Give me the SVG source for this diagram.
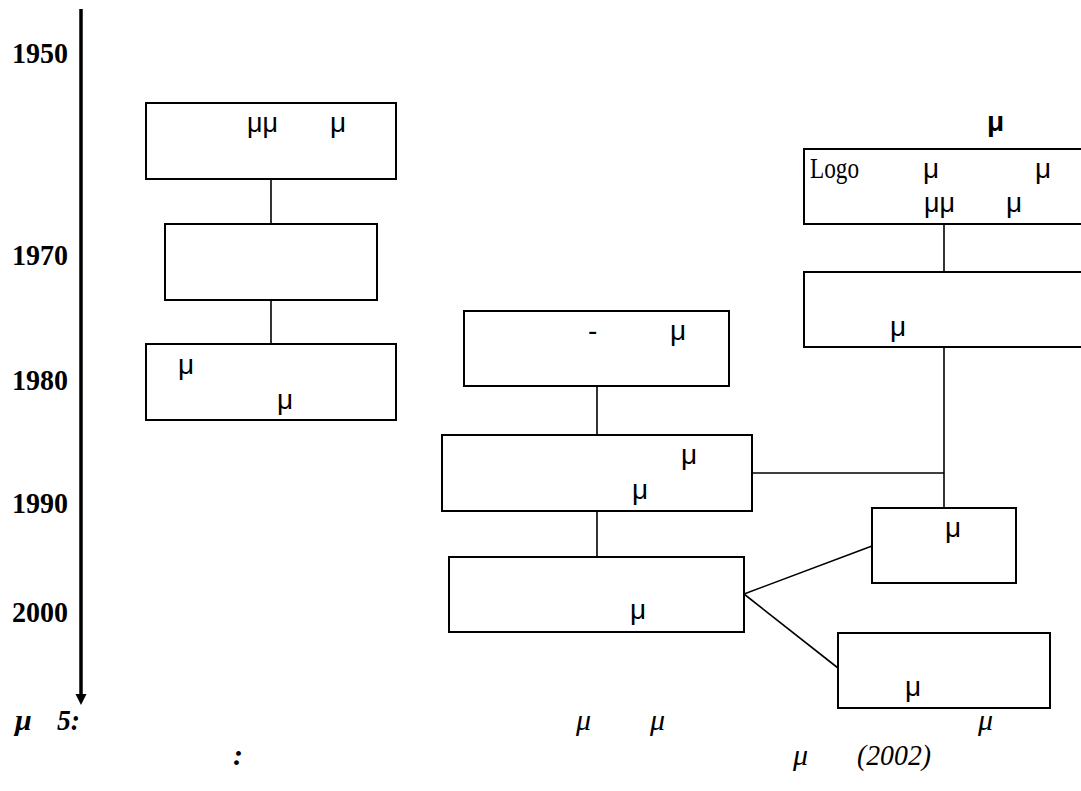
<svg xmlns="http://www.w3.org/2000/svg" width="1081" height="791" viewBox="0 0 1081 791">
  <style>
    .box { fill: #fff; stroke: #000; stroke-width: 2; }
    .link { fill: none; stroke: #000; stroke-width: 1.6; }
    .year { font-family: "Liberation Serif", "Times New Roman", serif; font-weight: bold; font-size: 30px; fill: #000; }
    .mu { font-family: "Liberation Sans", Arial, sans-serif; font-size: 28px; fill: #000; }
    .mub { font-family: "Liberation Sans", Arial, sans-serif; font-size: 28px; font-weight: bold; fill: #000; }
    .serif { font-family: "Liberation Serif", "Times New Roman", serif; font-size: 29px; fill: #000; }
    .cap { font-family: "Liberation Serif", "Times New Roman", serif; font-style: italic; font-size: 30px; fill: #000; }
    .capb { font-family: "Liberation Serif", "Times New Roman", serif; font-style: italic; font-weight: bold; font-size: 30px; fill: #000; }
  </style>

  <rect width="1081" height="791" fill="#fff"/>

  <!-- time axis -->
  <g id="axis">
    <line x1="81" y1="9" x2="81" y2="696" stroke="#000" stroke-width="3.5"/>
    <path d="M75.5,694 L86.5,694 L81,705 Z" fill="#000"/>
    <text class="year" x="12" y="63" textLength="56" lengthAdjust="spacingAndGlyphs">1950</text>
    <text class="year" x="12" y="265" textLength="56" lengthAdjust="spacingAndGlyphs">1970</text>
    <text class="year" x="12" y="390" textLength="56" lengthAdjust="spacingAndGlyphs">1980</text>
    <text class="year" x="12" y="513" textLength="56" lengthAdjust="spacingAndGlyphs">1990</text>
    <text class="year" x="12" y="622" textLength="56" lengthAdjust="spacingAndGlyphs">2000</text>
  </g>

  <!-- connectors -->
  <g id="connectors">
    <line class="link" x1="271" y1="179" x2="271" y2="224"/>
    <line class="link" x1="271" y1="300" x2="271" y2="344"/>
    <line class="link" x1="944" y1="224" x2="944" y2="272"/>
    <line class="link" x1="944" y1="347" x2="944" y2="508"/>
    <line class="link" x1="752" y1="473" x2="944" y2="473"/>
    <line class="link" x1="597" y1="386" x2="597" y2="435"/>
    <line class="link" x1="597" y1="511" x2="597" y2="557"/>
    <line class="link" x1="744" y1="594" x2="872" y2="546"/>
    <line class="link" x1="744" y1="594" x2="838" y2="668"/>
  </g>

  <!-- left branch -->
  <g id="nodeA">
    <rect class="box" x="146" y="103" width="250" height="76"/>
    <text class="mu" x="247" y="132" textLength="31" lengthAdjust="spacingAndGlyphs">μμ</text>
    <text class="mu" x="330" y="132">μ</text>
  </g>
  <g id="nodeB">
    <rect class="box" x="165" y="224" width="212" height="76"/>
  </g>
  <g id="nodeC">
    <rect class="box" x="146" y="344" width="250" height="76"/>
    <text class="mu" x="178" y="374">μ</text>
    <text class="mu" x="277" y="409">μ</text>
  </g>

  <!-- right branch -->
  <g id="nodeD">
    <text class="mub" x="987" y="131">μ</text>
    <rect class="box" x="804" y="149" width="290" height="75"/>
    <text class="serif" x="810" y="178" textLength="49" lengthAdjust="spacingAndGlyphs">Logo</text>
    <text class="mu" x="923" y="178">μ</text>
    <text class="mu" x="1035" y="178">μ</text>
    <text class="mu" x="924" y="212" textLength="31" lengthAdjust="spacingAndGlyphs">μμ</text>
    <text class="mu" x="1006" y="212">μ</text>
  </g>
  <g id="nodeF">
    <rect class="box" x="804" y="272" width="290" height="75"/>
    <text class="mu" x="890" y="336">μ</text>
  </g>

  <!-- middle branch -->
  <g id="nodeE">
    <rect class="box" x="464" y="311" width="265" height="75"/>
    <text class="mu" x="588" y="340">-</text>
    <text class="mu" x="670" y="340">μ</text>
  </g>
  <g id="nodeG">
    <rect class="box" x="442" y="435" width="310" height="76"/>
    <text class="mu" x="681" y="464">μ</text>
    <text class="mu" x="632" y="499">μ</text>
  </g>
  <g id="nodeI">
    <rect class="box" x="449" y="557" width="295" height="75"/>
    <text class="mu" x="630" y="619">μ</text>
  </g>
  <g id="nodeH">
    <rect class="box" x="872" y="508" width="144" height="75"/>
    <text class="mu" x="945" y="537">μ</text>
  </g>
  <g id="nodeJ">
    <rect class="box" x="838" y="633" width="212" height="75"/>
    <text class="mu" x="905" y="696">μ</text>
  </g>

  <!-- caption -->
  <g id="caption">
    <text class="capb" x="15" y="730">μ</text>
    <text class="capb" x="57" y="730" textLength="23" lengthAdjust="spacingAndGlyphs">5:</text>
    <text class="cap" x="576" y="730">μ</text>
    <text class="cap" x="650" y="730">μ</text>
    <text class="cap" x="978" y="730">μ</text>
    <text class="capb" x="233" y="765">:</text>
    <text class="cap" x="793" y="765">μ</text>
    <text class="cap" x="857" y="765" textLength="74" lengthAdjust="spacingAndGlyphs">(2002)</text>
  </g>
</svg>
